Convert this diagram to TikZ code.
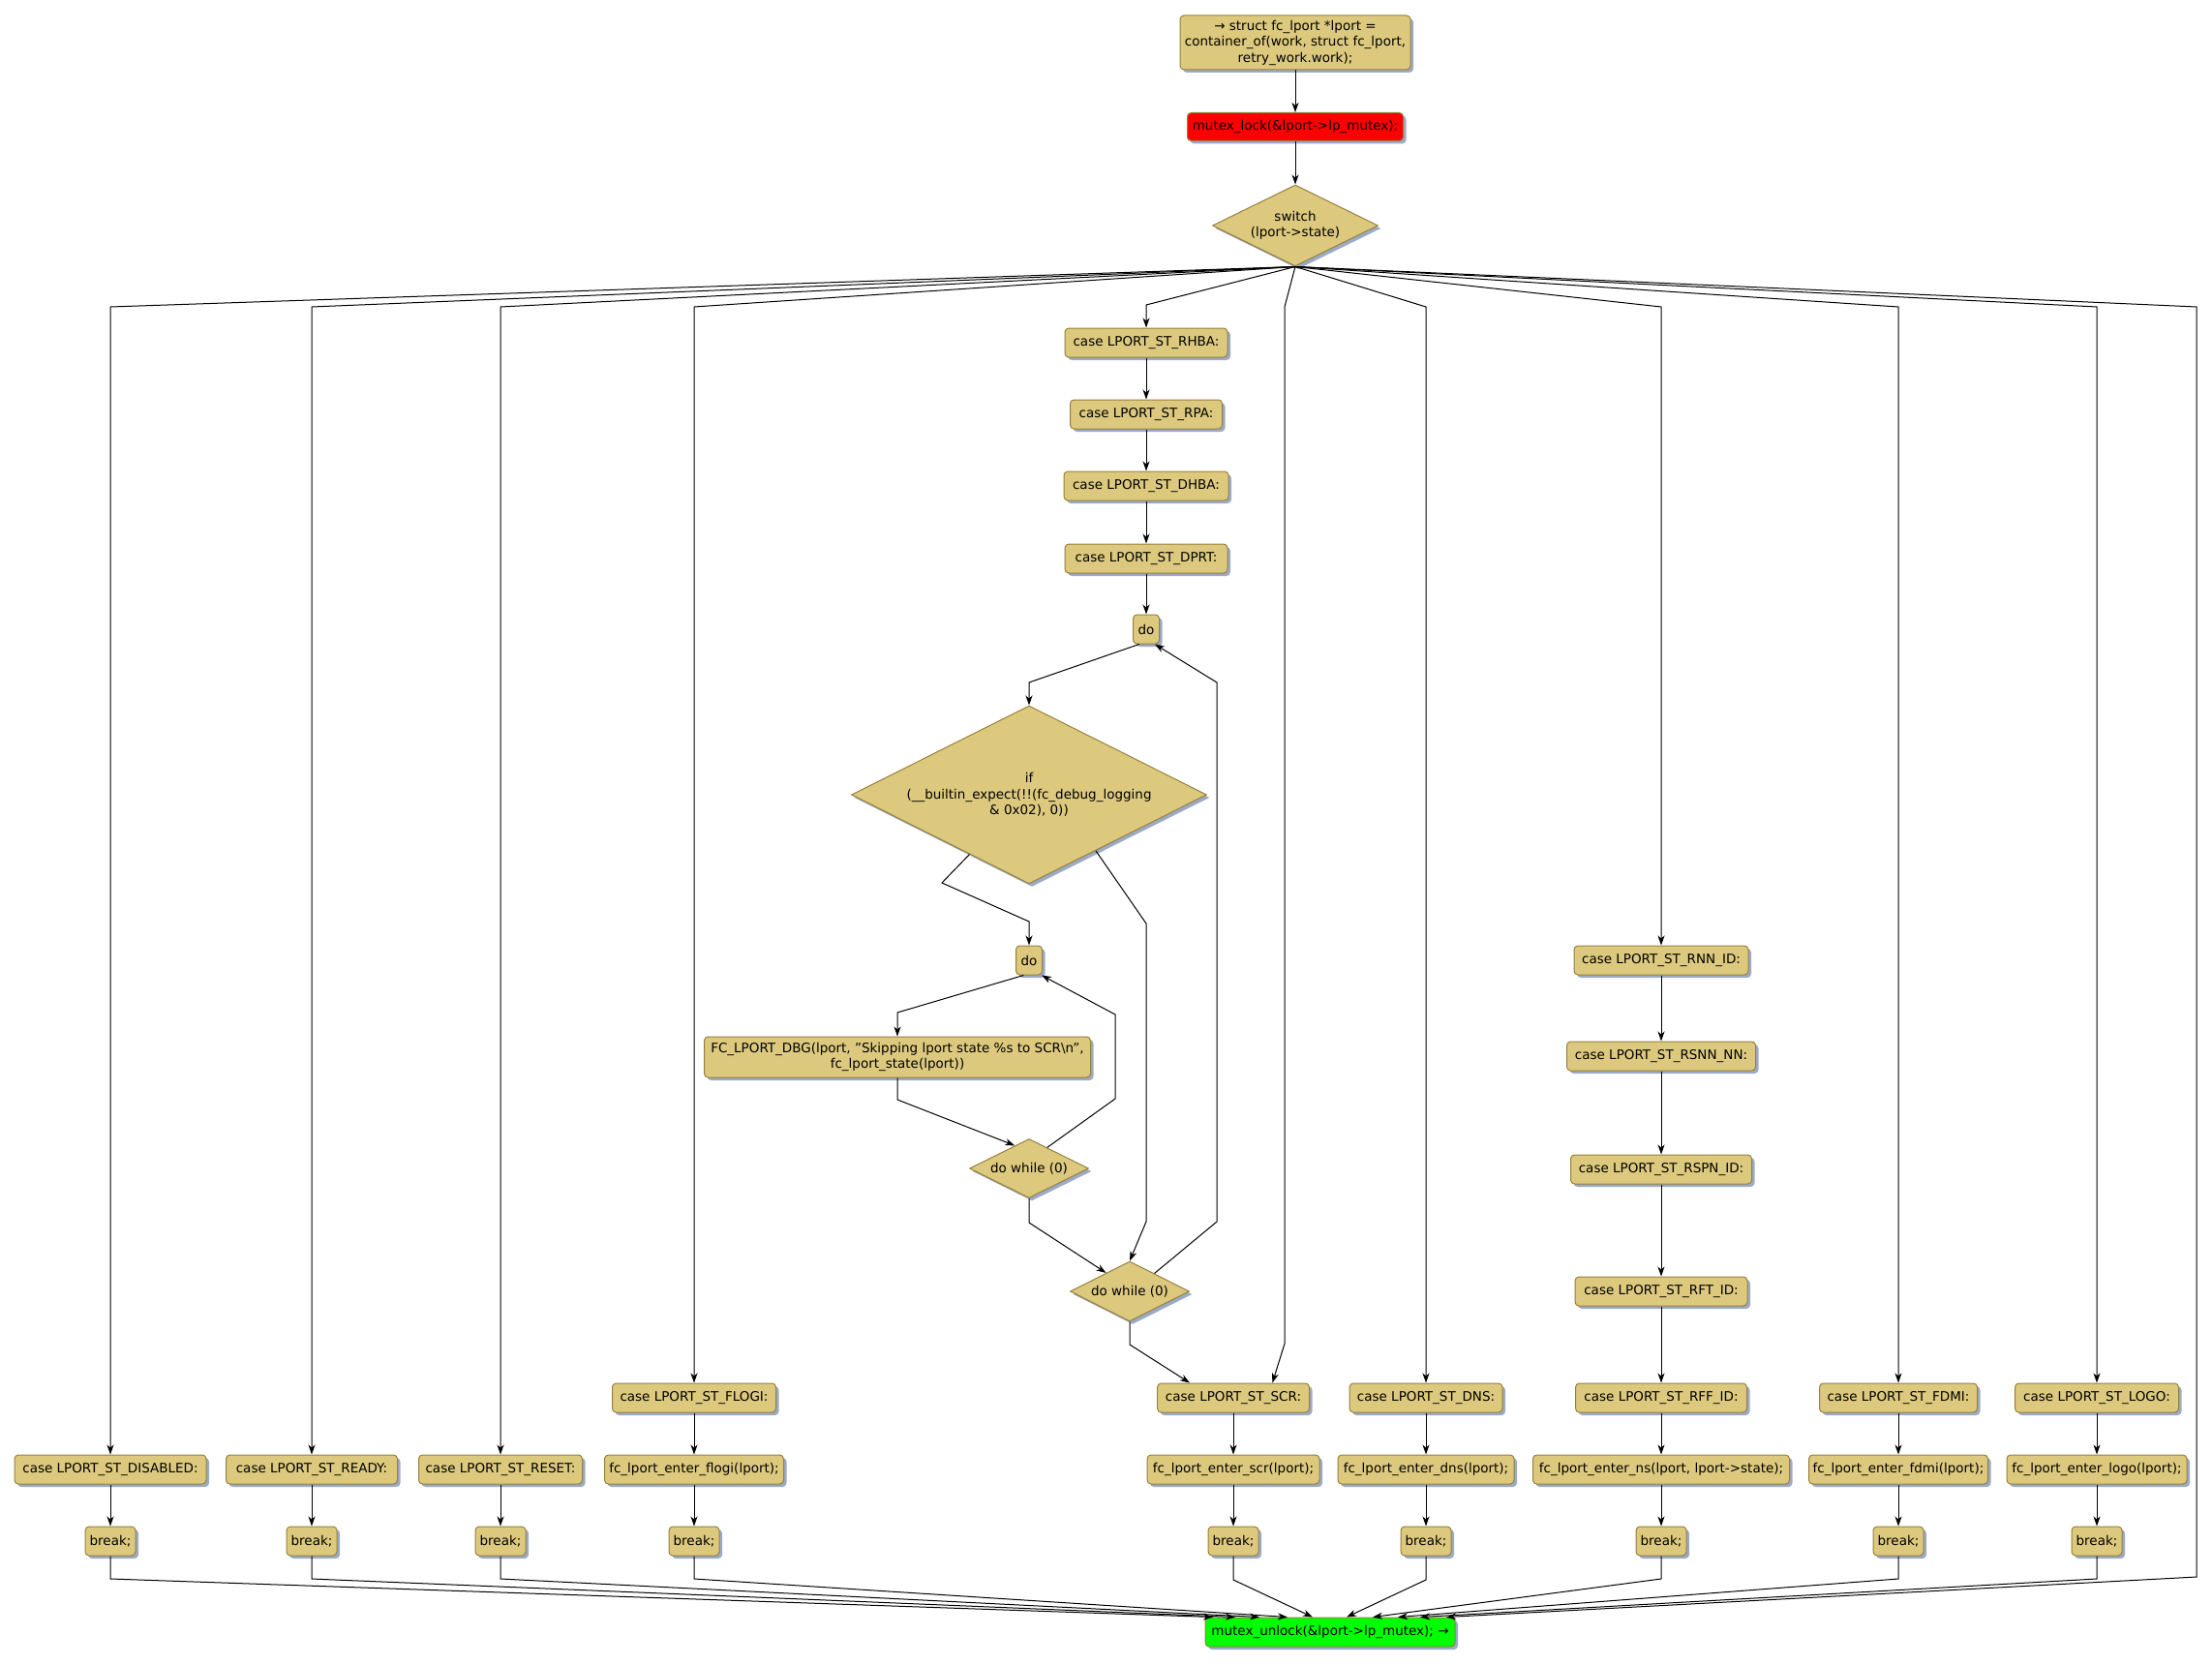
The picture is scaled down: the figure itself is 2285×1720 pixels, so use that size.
\documentclass[tikz,border=0pt]{standalone}
\usepackage{fontspec}
\setmainfont{DejaVu Sans}
\usetikzlibrary{shapes.geometric,shadows,arrows.meta,calc}
\definecolor{nfill}{RGB}{221,201,126}
\definecolor{nline}{RGB}{150,128,60}
\definecolor{nshad}{RGB}{155,170,200}
\newcommand{\dq}{\symbol{34}}
\begin{document}
\begin{tikzpicture}[x=1pt,y=-1pt,
  font=\fontsize{13.5}{16.5}\selectfont,
  nd/.style={draw=nline, fill=nfill, line width=1pt, rounded corners=4pt, inner sep=1pt, align=center,
    drop shadow={shadow xshift=3pt,shadow yshift=-3pt,fill=nshad,opacity=1}},
  dia/.style={nd, diamond, sharp corners, inner sep=0pt},
  sz/.style 2 args={minimum width=#1pt, minimum height=#2pt},
  arr/.style={-{Stealth[length=10pt,width=7pt,inset=3pt]}, line width=1pt}]
\useasboundingbox (0,0) rectangle (2285,1720);

% top chain
\node[nd,sz={238}{56}] (top) at (1338,44) {→ struct fc\_lport *lport =\\container\_of(work, struct fc\_lport,\\retry\_work.work);};
\node[nd,sz={223}{29},fill=red] (ml) at (1338,131) {mutex\_lock(\&lport->lp\_mutex);};
\node[dia,sz={171}{84},aspect=2.04] (sw) at (1338,233) {switch\\(lport->state)};

% middle column
\node[nd,sz={168}{30}] (rhba) at (1184,354) {case LPORT\_ST\_RHBA:};
\node[nd,sz={157}{30}] (rpa) at (1184,428) {case LPORT\_ST\_RPA:};
\node[nd,sz={170}{30}] (dhba) at (1184,502) {case LPORT\_ST\_DHBA:};
\node[nd,sz={168}{30}] (dprt) at (1184,577) {case LPORT\_ST\_DPRT:};
\node[nd,sz={27}{30}] (do1) at (1184,650) {do};
\node[dia,sz={367}{184},aspect=2.0] (if) at (1063,821) {if\\(\_\_builtin\_expect(!!(fc\_debug\_logging\\\& 0x02), 0))};
\node[nd,sz={27}{30}] (do2) at (1063,992) {do};
\node[nd,sz={399}{42}] (dbg) at (927,1092) {FC\_LPORT\_DBG(lport, \dq Skipping lport state \%s to SCR\textbackslash n\dq,\\fc\_lport\_state(lport))};
\node[dia,sz={123}{61},aspect=2.0] (idw) at (1063,1207) {do while (0)};
\node[dia,sz={123}{62},aspect=2.0] (odw) at (1167,1334) {do while (0)};

% case nodes
\node[nd,sz={198}{30}] (dis) at (114,1518) {case LPORT\_ST\_DISABLED:};
\node[nd,sz={177}{30}] (rdy) at (322,1518) {case LPORT\_ST\_READY:};
\node[nd,sz={169}{30}] (rst) at (517,1518) {case LPORT\_ST\_RESET:};
\node[nd,sz={169}{30}] (flogi) at (717,1444) {case LPORT\_ST\_FLOGI:};
\node[nd,sz={185}{30}] (eflogi) at (717,1518) {fc\_lport\_enter\_flogi(lport);};
\node[nd,sz={157}{30}] (scr) at (1274,1444) {case LPORT\_ST\_SCR:};
\node[nd,sz={178}{30}] (escr) at (1274,1518) {fc\_lport\_enter\_scr(lport);};
\node[nd,sz={158}{30}] (dns) at (1473,1444) {case LPORT\_ST\_DNS:};
\node[nd,sz={182}{30}] (edns) at (1473,1518) {fc\_lport\_enter\_dns(lport);};
\node[nd,sz={180}{30}] (rnn) at (1716,992) {case LPORT\_ST\_RNN\_ID:};
\node[nd,sz={195}{30}] (rsnn) at (1716,1091) {case LPORT\_ST\_RSNN\_NN:};
\node[nd,sz={187}{30}] (rspn) at (1716,1208) {case LPORT\_ST\_RSPN\_ID:};
\node[nd,sz={178}{30}] (rft) at (1716,1334) {case LPORT\_ST\_RFT\_ID:};
\node[nd,sz={177}{30}] (rff) at (1716,1444) {case LPORT\_ST\_RFF\_ID:};
\node[nd,sz={265}{30}] (ens) at (1716,1518) {fc\_lport\_enter\_ns(lport, lport->state);};
\node[nd,sz={163}{30}] (fdmi) at (1961,1444) {case LPORT\_ST\_FDMI:};
\node[nd,sz={185}{30}] (efdmi) at (1961,1518) {fc\_lport\_enter\_fdmi(lport);};
\node[nd,sz={169}{30}] (logo) at (2166,1444) {case LPORT\_ST\_LOGO:};
\node[nd,sz={186}{30}] (elogo) at (2166,1518) {fc\_lport\_enter\_logo(lport);};

% breaks
\node[nd,sz={52}{30}] (b1) at (114,1592) {break;};
\node[nd,sz={52}{30}] (b2) at (322,1592) {break;};
\node[nd,sz={52}{30}] (b3) at (517,1592) {break;};
\node[nd,sz={52}{30}] (b4) at (717,1592) {break;};
\node[nd,sz={52}{30}] (b5) at (1274,1592) {break;};
\node[nd,sz={52}{30}] (b6) at (1473,1592) {break;};
\node[nd,sz={52}{30}] (b7) at (1716,1592) {break;};
\node[nd,sz={52}{30}] (b8) at (1961,1592) {break;};
\node[nd,sz={52}{30}] (b9) at (2166,1592) {break;};

\node[nd,sz={258}{30},fill=green] (ul) at (1374,1686) {mutex\_unlock(\&lport->lp\_mutex); →};

% edges top
\draw[arr] (top) -- (ml);
\draw[arr] (ml) -- (sw);

% fan
\draw[arr] (sw.south) -- (114,317) -- (dis.north);
\draw[arr] (sw.south) -- (322,317) -- (rdy.north);
\draw[arr] (sw.south) -- (517,317) -- (rst.north);
\draw[arr] (sw.south) -- (717,317) -- (flogi.north);
\draw[arr] (sw.south) -- (1184,315) -- (rhba.north);
\draw[arr] (sw.south) -- (1327,317) -- (1327,1388) -- (scr.21);
\draw[arr] (sw.south) -- (1473,317) -- (dns.north);
\draw[arr] (sw.south) -- (1716,317) -- (rnn.north);
\draw[arr] (sw.south) -- (1961,317) -- (fdmi.north);
\draw[arr] (sw.south) -- (2166,317) -- (logo.north);
\coordinate (byp) at (2269,1629);
\draw[arr] (sw.south) -- (2269,317) -- (byp) -- ($(ul.north)+(120,0)$);

% middle chain
\draw[arr] (rhba) -- (rpa);
\draw[arr] (rpa) -- (dhba);
\draw[arr] (dhba) -- (dprt);
\draw[arr] (dprt) -- (do1);
\draw[arr] (do1.-115) -- (1063,705) -- (if.north);
\draw[arr] (if.225) -- (973,912) -- (1063,952) -- (do2.north);
\draw[arr] (if.320) -- (1184,954) -- (1184,1262) -- (odw.north);
\draw[arr] (do2.-110) -- (927,1046) -- (dbg.north);
\draw[arr] (dbg.south) -- (927,1136) -- (idw.122);
\draw[arr] (idw.49) -- (1152,1135) -- (1152,1048) -- (do2.-50);
\draw[arr] (idw.south) -- (1063,1263) -- (odw.142);
\draw[arr] (odw.36) -- (1257,1262) -- (1257,705) -- (do1.-60);
\draw[arr] (odw.south) -- (1167,1389) -- (scr.161);

% columns
\draw[arr] (dis) -- (b1);
\draw[arr] (rdy) -- (b2);
\draw[arr] (rst) -- (b3);
\draw[arr] (flogi) -- (eflogi);
\draw[arr] (eflogi) -- (b4);
\draw[arr] (scr) -- (escr);
\draw[arr] (escr) -- (b5);
\draw[arr] (dns) -- (edns);
\draw[arr] (edns) -- (b6);
\draw[arr] (rnn) -- (rsnn);
\draw[arr] (rsnn) -- (rspn);
\draw[arr] (rspn) -- (rft);
\draw[arr] (rft) -- (rff);
\draw[arr] (rff) -- (ens);
\draw[arr] (ens) -- (b7);
\draw[arr] (fdmi) -- (efdmi);
\draw[arr] (efdmi) -- (b8);
\draw[arr] (logo) -- (elogo);
\draw[arr] (elogo) -- (b9);

% to unlock
\draw[arr] (b1.south) -- (114,1631) -- ($(ul.north)+(-121,0)$);
\draw[arr] (b2.south) -- (322,1631) -- ($(ul.north)+(-98,0)$);
\draw[arr] (b3.south) -- (517,1631) -- ($(ul.north)+(-73,0)$);
\draw[arr] (b4.south) -- (717,1631) -- ($(ul.north)+(-44,0)$);
\draw[arr] (b5.south) -- (1274,1632) -- ($(ul.north)+(-18,0)$);
\draw[arr] (b6.south) -- (1473,1632) -- ($(ul.north)+(17,0)$);
\draw[arr] (b7.south) -- (1716,1631) -- ($(ul.north)+(44,0)$);
\draw[arr] (b8.south) -- (1961,1631) -- ($(ul.north)+(70,0)$);
\draw[arr] (b9.south) -- (2166,1631) -- ($(ul.north)+(93,0)$);
\end{tikzpicture}
\end{document}
